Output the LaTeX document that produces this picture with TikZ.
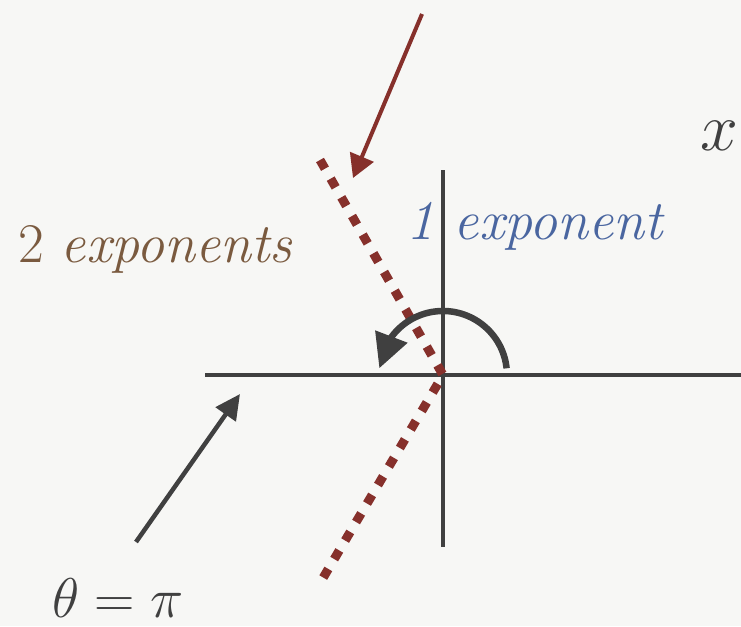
\RequirePackage{fix-cm}
\documentclass[tikz,border=0pt]{standalone}
\usetikzlibrary{arrows.meta,bending}
\definecolor{bg}{HTML}{F7F7F5}
\definecolor{axis}{HTML}{404040}
\definecolor{dred}{HTML}{86302B}
\definecolor{brownt}{HTML}{7A5A3F}
\definecolor{bluet}{HTML}{4A66A0}
\tikzset{
  axisline/.style={draw=axis, line width=4pt},
  dotline/.style={draw=dred, line width=9pt, dash pattern=on 10pt off 11.5pt},
  redarrow/.style={draw=dred, line width=4pt, -{Triangle[length=23pt,width=25pt]}},
  blackarrow/.style={draw=axis, line width=4.5pt, -{Triangle[length=25pt,width=24pt]}},
  arcarrow/.style={draw=axis, line width=6.5pt, -{Triangle[length=34pt,width=33pt,flex]}},
  lbl/.style={anchor=base west, inner sep=0pt, font=\fontsize{56}{60}\selectfont},
}
\begin{document}
\begin{tikzpicture}[x=1pt,y=-1pt]
\fill[bg] (0,0) rectangle (741,626);
\useasboundingbox (0,0) rectangle (741,626);
% axes
\coordinate (O) at (443,375);
\coordinate (hl) at (205,375);
\coordinate (hr) at (741,375);
\coordinate (vt) at (443,170);
\coordinate (vb) at (443,547);
\draw[axisline] (hl) -- (hr);
\draw[axisline] (vt) -- (vb);
% dotted bent line
\coordinate (dt) at (320,160);
\coordinate (db) at (323,578);
\draw[dotline] (dt) -- (O) -- (db);
% arc arrow
\coordinate (as) at (506.6,368.3);
\draw[arcarrow] (as) arc[start angle=-6, end angle=-174, radius=64];
% red arrow
\coordinate (rt) at (422,14);
\coordinate (rh) at (353,178);
\draw[redarrow] (rt) -- (rh);
% black arrow
\coordinate (bt) at (136,542);
\coordinate (bh) at (240,394);
\draw[blackarrow] (bt) -- (bh);
% labels
\node[lbl, text=brownt] (two) at (18,262) {2 \textit{exponents}};
\node[lbl, text=bluet] (one) at (406,239) {\textit{1 exponent}};
\node[lbl, text=axis, font=\fontsize{68}{72}\selectfont] (x) at (700,150) {$x$};
\node[lbl, text=axis] (th) at (52,617) {$\theta=\pi$};
\end{tikzpicture}
\end{document}
